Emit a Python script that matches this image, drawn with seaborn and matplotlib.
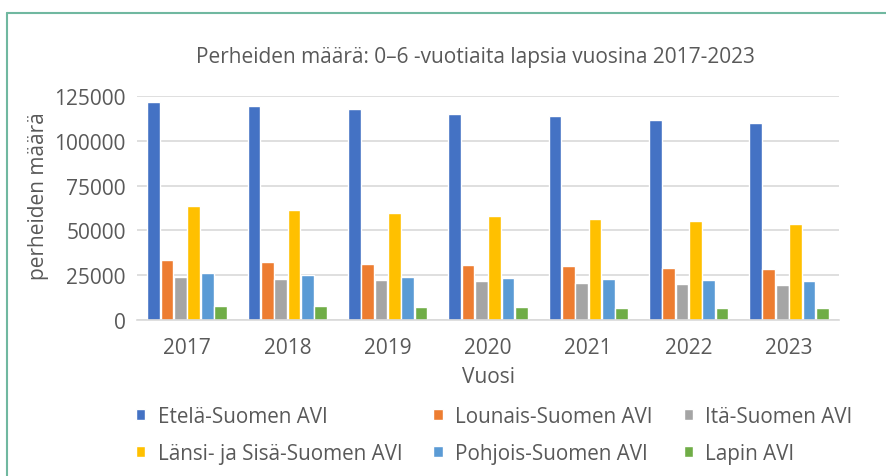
import pandas as pd
import seaborn as sns
import matplotlib.pyplot as plt
from matplotlib.lines import Line2D

years = ['2017', '2018', '2019', '2020', '2021', '2022', '2023']
regions = ['Etelä-Suomen AVI', 'Lounais-Suomen AVI', 'Itä-Suomen AVI',
           'Länsi- ja Sisä-Suomen AVI', 'Pohjois-Suomen AVI', 'Lapin AVI']
etela = [121800, 119600, 117400, 115100, 113500, 111800, 110100]
lounais = [33500, 32400, 31300, 30700, 30200, 29100, 28500]
ita = [24000, 22900, 22400, 21800, 20700, 20100, 19600]
lansi = [63700, 61500, 59800, 58100, 56500, 55300, 53700]
pohjois = [26300, 25200, 24000, 23500, 22900, 22400, 21800]
lappi = [7800, 7800, 7300, 7300, 6700, 6700, 6700]
colors = ['#4472C4', '#ED7D31', '#A5A5A5', '#FFC000', '#5B9BD5', '#70AD47']

series = [etela, lounais, ita, lansi, pohjois, lappi]
rows = []
for reg, vals in zip(regions, series):
    for y, v in zip(years, vals):
        rows.append({'Vuosi': y, 'alue': reg, 'maara': v})
df = pd.DataFrame(rows)

sns.set_style('white')
plt.rcParams['font.family'] = ['Open Sans', 'DejaVu Sans']
txt = '#595959'

fig = plt.figure(figsize=(8.86, 4.77), dpi=100)
ax = fig.add_axes([0.1546, 0.327, 0.7924, 0.470])
sns.barplot(data=df, x='Vuosi', y='maara', hue='alue', hue_order=regions,
            palette=colors, width=0.8, gap=0.05, saturation=1, ax=ax, legend=True)

ax.set_ylim(0, 125000)
ax.set_yticks([0, 25000, 50000, 75000, 100000, 125000])
ax.set_yticklabels(['0', '25000', '50000', '75000', '100000', '125000'])
ax.yaxis.grid(True, color='#d9d9d9', linewidth=1.2)
ax.set_axisbelow(True)
for s in ['top', 'right', 'left']:
    ax.spines[s].set_visible(False)
ax.spines['bottom'].set_color('#d9d9d9')
ax.spines['bottom'].set_linewidth(1.2)
ax.tick_params(axis='both', length=0, labelsize=15, colors=txt)
ax.tick_params(axis='y', pad=8)
ax.tick_params(axis='x', pad=12)
ax.set_xlabel('Vuosi', fontsize=15, color=txt, labelpad=6)
ax.set_ylabel('perheiden määrä', fontsize=15, color=txt, labelpad=4)
ax.yaxis.label.set_y(0.555)
fig.text(0.537, 0.88, 'Perheiden määrä: 0–6 -vuotiaita lapsia vuosina 2017-2023',
         fontsize=15, color=txt, ha='center', va='center')

handles, labels = ax.get_legend_handles_labels()
ax.get_legend().remove()
order = [0, 3, 1, 4, 2, 5]
fig.legend([handles[i] for i in order], [labels[i] for i in order],
           ncol=3, loc='center', bbox_to_anchor=(0.558, 0.086), frameon=False,
           fontsize=14.9, labelcolor=txt, handlelength=0.45, handleheight=0.45,
           handletextpad=0.6, columnspacing=1.5, labelspacing=0.8)

border = '#70b8a0'
fig.add_artist(Line2D([0.008, 1.0], [0.971, 0.971], color=border, lw=1.5, transform=fig.transFigure))
fig.add_artist(Line2D([0.008, 0.008], [0.0, 0.971], color=border, lw=1.5, transform=fig.transFigure))

fig.savefig('out.png', dpi=100)
